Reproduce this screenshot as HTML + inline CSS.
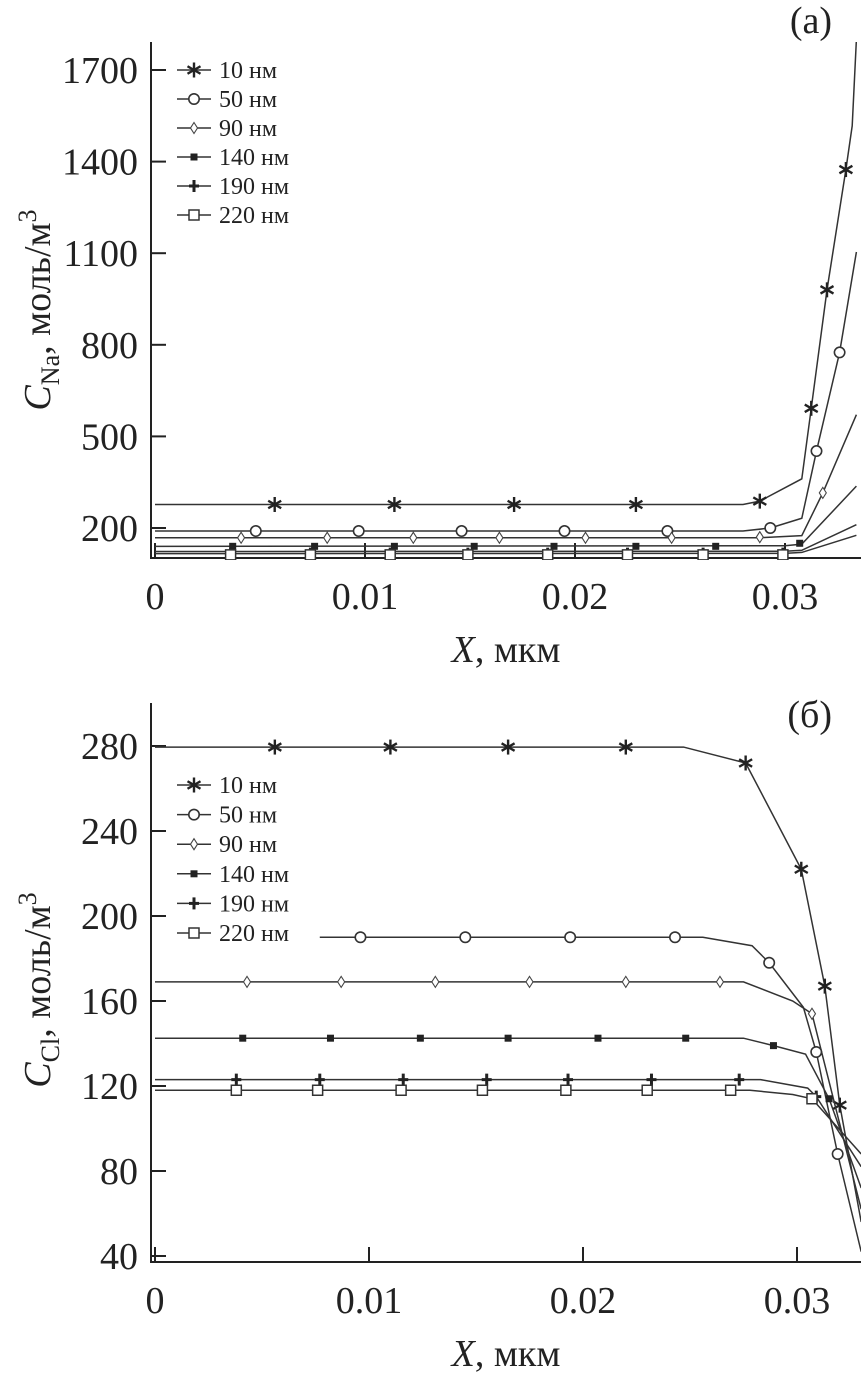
<!DOCTYPE html>
<html><head><meta charset="utf-8"><style>
html,body{margin:0;padding:0;background:#fff;}
svg{display:block;font-family:"Liberation Serif",serif;}
</style></head><body>
<svg id="fig" width="861" height="1377" viewBox="0 0 861 1377" xmlns="http://www.w3.org/2000/svg">
<g id="chartA"></g>
<g id="chartB"></g>
</svg>
<script>
const NS="http://www.w3.org/2000/svg";
const seriesNames=["10 нм","50 нм","90 нм","140 нм","190 нм","220 нм"];
const markerTypes=["star","circle","diamond","fsquare","plus","osquare"];
// ---- Chart A data (C_Na) ----
const aXTicks=[0,0.01,0.02,0.03];
const aXTickLabels=["0","0.01","0.02","0.03"];
const aYTicks=[200,500,800,1100,1400,1700];
const aYTickLabels=["200","500","800","1100","1400","1700"];
const aLineX=[
 [0,0.028,0.0288,0.0308,0.03125,0.0320,0.0329,0.0332,0.0334],
 [0,0.028,0.0293,0.0308,0.0315,0.0326,0.0334],
 [0,0.0288,0.0308,0.0318,0.0334],
 [0,0.0300,0.0308,0.0334],
 [0,0.0300,0.0308,0.0334],
 [0,0.0300,0.0308,0.0334]];
const aLineY=[
 [277,277,288,361,592,980,1374,1517,1800],
 [190,190,200,232,452,775,1104],
 [168,168,175,315,571],
 [140,142,147,337],
 [123,124,127,211],
 [116,117,120,176]];
const aMarkX=[
 [0.0057,0.0114,0.0171,0.0229,0.0288,0.03125,0.0320,0.0329],
 [0.0048,0.0097,0.0146,0.0195,0.0244,0.0293,0.0315,0.0326],
 [0.0041,0.0082,0.0123,0.0164,0.0205,0.0246,0.0288,0.0318],
 [0.0037,0.0076,0.0114,0.0152,0.0190,0.0229,0.0267,0.0307],
 [0.0036,0.0074,0.0112,0.0149,0.0187,0.0225,0.0261,0.0299],
 [0.0036,0.0074,0.0112,0.0149,0.0187,0.0225,0.0261,0.0299]];
const aMarkY=[
 [277,277,277,277,288,592,980,1374],
 [190,190,190,190,190,200,452,775],
 [168,168,168,168,168,168,170,315],
 [140,140,140,140,140,140,140,150],
 [116,116,116,116,116,116,116,116],
 [112,112,112,112,112,112,112,112]];
// ---- Chart B data (C_Cl) ----
const bXTicks=[0,0.01,0.02,0.03];
const bXTickLabels=["0","0.01","0.02","0.03"];
const bYTicks=[40,80,120,160,200,240,280];
const bYTickLabels=["40","80","120","160","200","240","280"];
const bLineX=[
 [0,0.0247,0.0276,0.0302,0.0313,0.0320,0.0330],
 [0.0077,0.0256,0.0279,0.0287,0.0303,0.0309,0.0319,0.0330],
 [0,0.0275,0.0298,0.0307,0.0330],
 [0,0.0275,0.0289,0.0304,0.0315,0.0330],
 [0,0.0283,0.0305,0.0309,0.0330],
 [0,0.0278,0.0298,0.0307,0.0330]];
const bLineY=[
 [279.5,279.5,272,222,167,111,56],
 [190,190,186,178,157,136,88,42],
 [169,169,160,154,62],
 [142.5,142.5,139,135,114,72],
 [123,123,119,115,82],
 [118,118,116,114,88]];
const bMarkX=[
 [0.0056,0.0110,0.0165,0.0220,0.0276,0.0302,0.0313,0.0320],
 [0.0096,0.0145,0.0194,0.0243,0.0287,0.0309,0.0319],
 [0.0043,0.0087,0.0131,0.0175,0.0220,0.0264,0.0307],
 [0.0041,0.0082,0.0124,0.0165,0.0207,0.0248,0.0289,0.0315],
 [0.0038,0.0077,0.0116,0.0155,0.0193,0.0232,0.0273,0.0309],
 [0.0038,0.0076,0.0115,0.0153,0.0192,0.0230,0.0269,0.0307]];
const bMarkY=[
 [279.5,279.5,279.5,279.5,272,222,167,111],
 [190,190,190,190,178,136,88],
 [169,169,169,169,169,169,154],
 [142.5,142.5,142.5,142.5,142.5,142.5,139,114],
 [123,123,123,123,123,123,123,115],
 [118,118,118,118,118,118,118,114]];

function el(tag,attrs,parent){const e=document.createElementNS(NS,tag);for(const k in attrs)e.setAttribute(k,attrs[k]);parent.appendChild(e);return e;}

function marker(g,type,cx,cy){
 let m;
 if(type==="star"){
  m=el("g",{stroke:"#222","stroke-width":2.4},g);
  for(let a=0;a<3;a++){const t=a*Math.PI/3+Math.PI/2;const dx=7.5*Math.cos(t),dy=7.5*Math.sin(t);
   el("line",{x1:cx-dx,y1:cy-dy,x2:cx+dx,y2:cy+dy},m);}
 }else if(type==="circle"){m=el("circle",{cx:cx,cy:cy,r:5.2,fill:"#fff",stroke:"#333","stroke-width":1.6},g);}
 else if(type==="diamond"){m=el("polygon",{points:`${cx},${cy-5.5} ${cx+3.5},${cy} ${cx},${cy+5.5} ${cx-3.5},${cy}`,fill:"#fff",stroke:"#444","stroke-width":1.1},g);}
 else if(type==="fsquare"){m=el("rect",{x:cx-3.5,y:cy-3.5,width:7,height:7,fill:"#222"},g);}
 else if(type==="plus"){m=el("g",{stroke:"#222","stroke-width":3},g);
  el("line",{x1:cx-5,y1:cy,x2:cx+5,y2:cy},m);el("line",{x1:cx,y1:cy-6,x2:cx,y2:cy+6},m);}
 else {m=el("rect",{x:cx-5,y:cy-5,width:10,height:10,fill:"#fff",stroke:"#333","stroke-width":1.5},g);}
 
 
}

function chart(g,cfg){
 const sx=v=>cfg.x0+v*cfg.xs, sy=v=>cfg.y0-(v-cfg.yRef)*cfg.ys;
 const ax=el("line",{x1:151,y1:cfg.axTop,x2:151,y2:cfg.axBot,stroke:"#222","stroke-width":2},g);
 
 
 const bx=el("line",{x1:150,y1:cfg.axBot,x2:861,y2:cfg.axBot,stroke:"#222","stroke-width":2},g);
 
 
 cfg.yT.forEach((v,i)=>{
  const y=sy(v);
  const t=el("line",{x1:151,y1:y,x2:166,y2:y,stroke:"#222","stroke-width":2},g);
  
  
  const tx=el("text",{x:138,y:y+13,"text-anchor":"end","font-size":38,fill:"#222"},g);
  tx.textContent=cfg.yL[i];
  
  
 });
 cfg.xT.forEach((v,i)=>{
  const x=sx(v);
  const t=el("line",{x1:x,y1:cfg.axBot,x2:x,y2:cfg.axBot-15,stroke:"#222","stroke-width":2},g);
  
  
  const tx=el("text",{x:x,y:cfg.axBot+51,"text-anchor":"middle","font-size":38,fill:"#222"},g);
  tx.textContent=cfg.xL[i];
  
  
 });
 const cpId="cp"+cfg.id;
 const cp=el("clipPath",{id:cpId},g);el("rect",{x:152,y:cfg.axTop,width:709,height:cfg.axBot-cfg.axTop+2},cp);
 for(let s=0;s<6;s++){
  const sg=el("g",{"clip-path":`url(#${cpId})`},g);
  
  
  const pts=cfg.lx[s].map((x,i)=>sx(x)+","+sy(cfg.ly[s][i])).join(" ");
  const pl=el("polyline",{points:pts,fill:"none",stroke:"#333","stroke-width":1.5},sg);
  
  
  cfg.mx[s].forEach((x,i)=>marker(sg,markerTypes[s],sx(x),sy(cfg.my[s][i])));
 }
 const lg=el("g",{},g);
 
 
 seriesNames.forEach((n,i)=>{
  const y=cfg.legY+i*cfg.legDy;
  const e=el("g",{},lg);
  
  
  el("line",{x1:177,y1:y,x2:211,y2:y,stroke:"#333","stroke-width":1.5},e);
  marker(e,markerTypes[i],194,y);
  const t=el("text",{x:219,y:y+8,"font-size":24,fill:"#222"},e);
  t.textContent=n;
 });
 const pl=el("text",{x:832,y:cfg.panelY,"text-anchor":"end","font-size":38,fill:"#222"},g);
 pl.textContent=cfg.panel;
 
 
 const xt=el("text",{x:506,y:cfg.xTitleY,"text-anchor":"middle","font-size":38,fill:"#222"},g);
 xt.innerHTML='<tspan font-style="italic">X</tspan>, мкм';
 
 
 const yt=el("text",{x:0,y:0,"text-anchor":"middle","font-size":38,fill:"#222",transform:`translate(50,${cfg.yTitleY}) rotate(-90)`},g);
 yt.innerHTML='<tspan font-style="italic">C</tspan><tspan font-size="26" dy="9">'+cfg.sub+'</tspan><tspan dy="-9">, моль/м</tspan><tspan font-size="26" dy="-14">3</tspan>';
 
 
}

chart(document.getElementById("chartA"),{id:"a",x0:155,xs:21000,y0:528,yRef:200,ys:91.6/300,axTop:42,axBot:558,
 xT:aXTicks,xL:aXTickLabels,yT:aYTicks,yL:aYTickLabels,lx:aLineX,ly:aLineY,mx:aMarkX,my:aMarkY,
 legY:70,legDy:29,panel:"(а)",panelY:33,xTitleY:662,yTitleY:310,sub:"Na"});
chart(document.getElementById("chartB"),{id:"b",x0:155,xs:21400,y0:1086,yRef:120,ys:85/40,axTop:703,axBot:1262,
 xT:bXTicks,xL:bXTickLabels,yT:bYTicks,yL:bYTickLabels,lx:bLineX,ly:bLineY,mx:bMarkX,my:bMarkY,
 legY:785,legDy:29.6,panel:"(б)",panelY:727,xTitleY:1366,yTitleY:990,sub:"Cl"});
</script>
</body></html>
